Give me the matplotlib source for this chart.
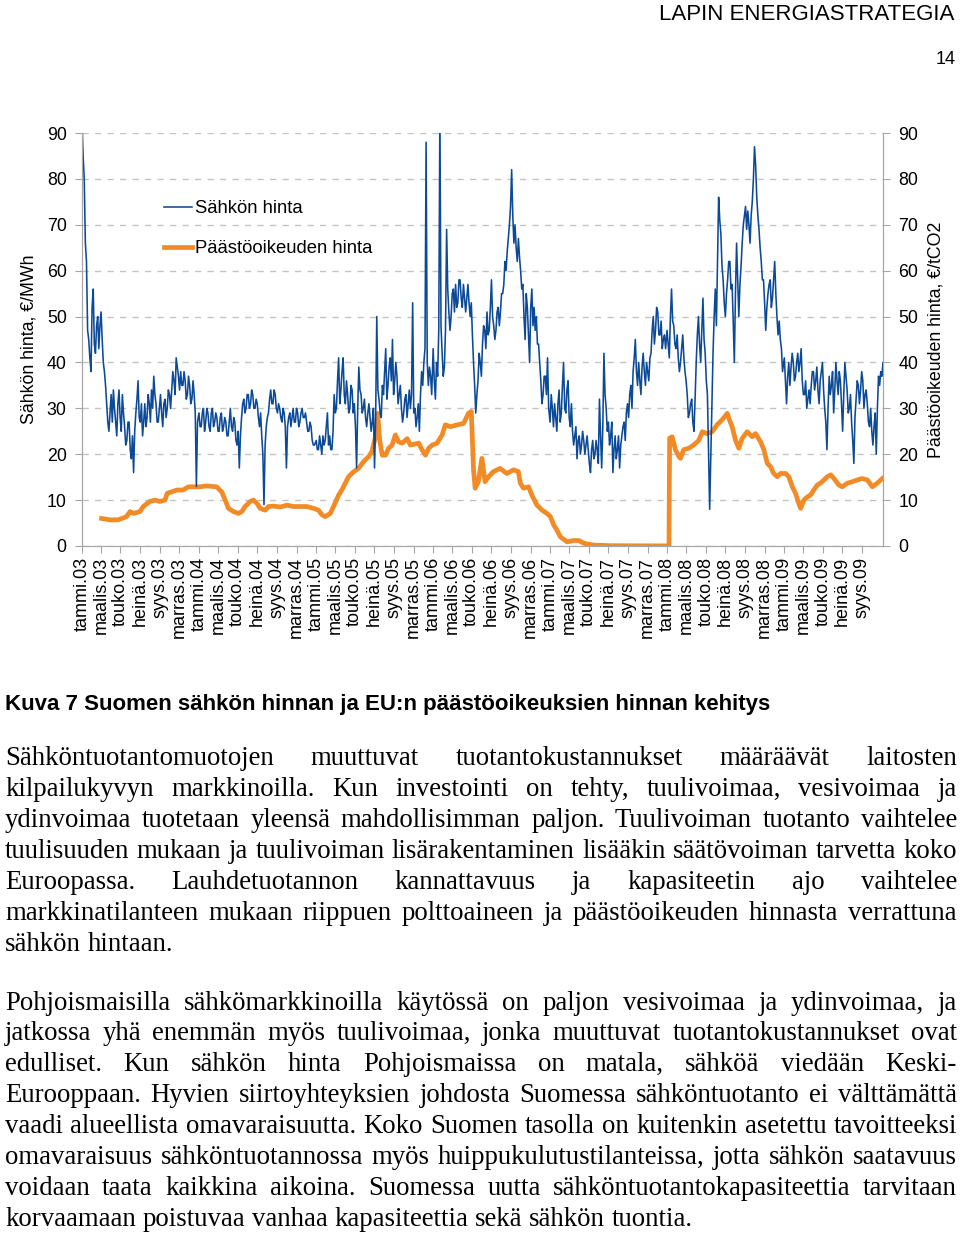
import matplotlib
matplotlib.use("Agg")
import matplotlib.pyplot as plt
import numpy as np
import pandas as pd

plt.rcParams["font.family"] = ["Liberation Sans", "DejaVu Sans"]

# electricity price, EUR/MWh: one value at the start of each week
# and one in the middle of the week (the other side of the daily band)
blue_2003 = [92, 80, 62, 45, 38, 56, 42, 50, 48, 45, 38, 31, 25, 33, 34, 27, 31, 28, 33, 26,
             23, 27, 19, 16, 29, 36, 27, 24, 31, 28, 31, 34, 37, 31, 27, 33, 26, 32, 30, 33,
             34, 36, 41, 37, 38, 35, 36, 33, 35, 32, 33, 13]
blue_2003_mid = [85, 66, 47, 41, 52, 44, 48, 43, 51, 40, 35, 27, 29, 27, 30, 24, 34, 25, 29, 22,
                 27, 21, 24, 25, 32, 28, 31, 27, 26, 33, 27, 30, 33, 27, 30, 29, 31, 28, 34, 30,
                 38, 33, 39, 34, 35, 38, 32, 37, 31, 36, 29, 27]
blue_2004 = [29, 26, 30, 27, 29, 25, 30, 27, 28, 25, 29, 26, 27, 24, 30, 25, 27, 22, 17, 28,
             32, 30, 33, 31, 33, 30, 31, 26, 24, 9, 26, 29, 34, 31, 33, 29, 30, 27, 29, 17,
             28, 26, 30, 27, 29, 27, 30, 28, 27, 25, 26, 22]
blue_2004_mid = [26, 29, 25, 30, 26, 29, 26, 29, 25, 28, 25, 28, 24, 27, 26, 28, 23, 25, 24, 31,
                 29, 33, 30, 34, 30, 32, 28, 29, 20, 22, 28, 32, 31, 34, 30, 31, 28, 30, 26, 26,
                 29, 28, 27, 30, 26, 29, 28, 29, 25, 27, 23, 22]
blue_2005 = [23, 21, 22, 24, 23, 29, 24, 21, 33, 30, 41, 34, 41, 31, 33, 30, 34, 31, 17, 39,
             33, 30, 28, 29, 28, 27, 17, 50, 32, 28, 33, 43, 35, 41, 45, 36, 37, 33, 30, 29,
             33, 31, 30, 53, 30, 28, 25, 38, 40, 88, 35, 37]
blue_2005_mid = [21, 24, 20, 22, 26, 22, 21, 25, 29, 36, 31, 38, 33, 36, 29, 35, 29, 26, 30, 34,
                 29, 32, 26, 31, 25, 30, 28, 34, 29, 35, 38, 32, 39, 36, 33, 40, 31, 35, 27, 32,
                 28, 34, 33, 29, 26, 31, 33, 35, 43, 40, 39, 33]
blue_2006 = [43, 32, 37, 95, 42, 39, 69, 51, 50, 56, 57, 53, 58, 52, 54, 54, 53, 53, 40, 29,
             36, 40, 44, 47, 51, 47, 58, 48, 47, 52, 51, 55, 62, 64, 70, 82, 66, 65, 67, 60,
             57, 45, 52, 40, 56, 52, 50, 44, 36, 33, 37, 41]
blue_2006_mid = [36, 40, 47, 48, 37, 47, 56, 47, 55, 51, 52, 58, 54, 57, 51, 57, 50, 46, 35, 33,
                 42, 37, 48, 43, 46, 52, 50, 45, 51, 48, 55, 57, 60, 67, 74, 72, 70, 62, 63, 56,
                 50, 55, 46, 52, 48, 47, 44, 40, 31, 37, 33, 30]
blue_2007 = [27, 30, 31, 25, 34, 29, 40, 29, 36, 26, 25, 24, 19, 24, 22, 23, 22, 21, 16, 23,
             20, 21, 32, 17, 42, 30, 27, 24, 16, 24, 21, 17, 24, 27, 29, 28, 35, 38, 45, 35,
             36, 39, 38, 40, 36, 42, 50, 47, 51, 46, 43, 46]
blue_2007_mid = [33, 26, 28, 31, 27, 35, 30, 34, 28, 31, 22, 26, 23, 20, 25, 20, 24, 18, 21, 19,
                 23, 18, 24, 26, 33, 25, 22, 27, 21, 19, 24, 22, 26, 23, 31, 33, 30, 41, 38, 40,
                 33, 42, 35, 38, 41, 47, 44, 52, 46, 49, 45, 43]
blue_2008 = [47, 41, 56, 48, 43, 41, 40, 46, 38, 33, 29, 32, 25, 40, 50, 40, 54, 42, 33, 8,
             30, 50, 48, 76, 68, 58, 50, 58, 62, 57, 40, 66, 50, 61, 70, 74, 73, 66, 75, 87,
             76, 69, 62, 58, 47, 55, 58, 54, 62, 50, 49, 43]
blue_2008_mid = [44, 50, 49, 44, 46, 38, 43, 41, 36, 28, 31, 27, 32, 46, 44, 47, 45, 36, 20, 19,
                 42, 56, 62, 71, 61, 53, 55, 62, 56, 49, 55, 58, 57, 66, 72, 69, 70, 72, 80, 83,
                 72, 65, 58, 53, 52, 57, 52, 58, 55, 46, 45, 38]
blue_2009 = [41, 31, 40, 39, 40, 37, 42, 40, 36, 33, 30, 34, 35, 38, 36, 34, 36, 40, 30, 21,
             37, 35, 29, 40, 33, 36, 25, 40, 34, 30, 27, 18, 32, 35, 34, 36, 33, 31, 26, 25,
             26, 20, 37, 38, 40]
blue_2009_mid = [36, 37, 35, 42, 36, 40, 38, 43, 33, 36, 32, 31, 38, 34, 39, 31, 38, 34, 27, 30,
                 33, 38, 34, 36, 38, 31, 33, 37, 29, 33, 23, 28, 36, 31, 38, 30, 34, 27, 30, 22,
                 29, 30, 35, 37]

# emission allowance price, EUR/tCO2
orange_dates = [
    "2003-03-03", "2003-03-29", "2003-04-24", "2003-05-20", "2003-05-31", "2003-06-10",
    "2003-07-01", "2003-07-11", "2003-08-01", "2003-08-17", "2003-09-01", "2003-09-17",
    "2003-09-24", "2003-10-08", "2003-10-24", "2003-11-13", "2003-11-29", "2004-01-04",
    "2004-01-25", "2004-02-25", "2004-03-12", "2004-03-23", "2004-04-02", "2004-04-18",
    "2004-05-03", "2004-05-14", "2004-05-24", "2004-06-09", "2004-06-19", "2004-06-30",
    "2004-07-10", "2004-07-26", "2004-08-05", "2004-08-21", "2004-09-11", "2004-10-02",
    "2004-10-22", "2004-11-12", "2004-12-03", "2004-12-24", "2005-01-08", "2005-01-19",
    "2005-01-29", "2005-02-14", "2005-02-24", "2005-03-12", "2005-03-22", "2005-04-02",
    "2005-04-12", "2005-04-28", "2005-05-13", "2005-05-29", "2005-06-14", "2005-06-24",
    "2005-07-05", "2005-07-12", "2005-07-18", "2005-07-26", "2005-08-05", "2005-08-15",
    "2005-08-26", "2005-09-05", "2005-09-15", "2005-09-26", "2005-10-12", "2005-10-22",
    "2005-11-17", "2005-11-27", "2005-12-08", "2005-12-18", "2005-12-29", "2006-01-13",
    "2006-01-29", "2006-02-08", "2006-02-24", "2006-03-17", "2006-04-06", "2006-04-21",
    "2006-04-30", "2006-05-07", "2006-05-12", "2006-05-22", "2006-06-02", "2006-06-12",
    "2006-06-23", "2006-07-08", "2006-07-29", "2006-08-19", "2006-09-09", "2006-09-24",
    "2006-09-30", "2006-10-10", "2006-10-26", "2006-11-05", "2006-11-21", "2006-12-07",
    "2006-12-22", "2007-01-02", "2007-01-12", "2007-01-22", "2007-02-02", "2007-02-23",
    "2007-03-15", "2007-03-31", "2007-04-16", "2007-05-17", "2007-07-08", "2007-10-01",
    "2008-01-07", "2008-01-09", "2008-01-17", "2008-01-27", "2008-02-07", "2008-02-12",
    "2008-02-22", "2008-03-09", "2008-03-24", "2008-04-09", "2008-04-20", "2008-05-05",
    "2008-05-21", "2008-06-05", "2008-06-21", "2008-07-07", "2008-07-12", "2008-07-22",
    "2008-08-02", "2008-08-12", "2008-08-22", "2008-09-07", "2008-09-23", "2008-10-03",
    "2008-10-19", "2008-10-29", "2008-11-09", "2008-11-19", "2008-11-29", "2008-12-10",
    "2008-12-20", "2009-01-05", "2009-01-15", "2009-01-26", "2009-02-05", "2009-02-15",
    "2009-02-21", "2009-03-03", "2009-03-14", "2009-03-24", "2009-04-03", "2009-04-14",
    "2009-04-24", "2009-05-05", "2009-05-15", "2009-05-26", "2009-06-05", "2009-06-20",
    "2009-07-01", "2009-07-17", "2009-08-01", "2009-08-17", "2009-09-01", "2009-09-17",
    "2009-10-03", "2009-10-18", "2009-11-03"]
orange_vals = [
    6.0, 5.7, 5.7, 6.4, 7.5, 7.1, 7.5, 8.6, 9.7, 10.0, 9.7, 10.0,
    11.5, 11.8, 12.2, 12.2, 12.9, 12.9, 13.1, 12.9, 11.8, 10.0, 8.2, 7.5,
    7.1, 7.5, 8.6, 9.7, 10.0, 9.3, 8.2, 7.8, 8.6, 8.7, 8.5, 8.9,
    8.6, 8.6, 8.6, 8.2, 7.8, 6.8, 6.4, 7.1, 8.6, 11.1, 12.2, 13.7,
    15.1, 16.2, 16.9, 18.4, 19.5, 20.6, 23.8, 28.9, 23.1, 19.8, 19.8, 21.3,
    22.0, 24.2, 22.7, 22.4, 23.4, 22.0, 22.4, 21.0, 19.8, 21.3, 22.0, 22.4,
    24.2, 26.4, 26.0, 26.4, 26.7, 28.9, 29.3, 16.6, 12.6, 14.0, 19.1, 14.0,
    15.1, 16.2, 16.9, 15.8, 16.6, 16.2, 13.7, 12.6, 12.9, 11.1, 8.9, 7.8,
    7.1, 6.4, 4.6, 3.5, 2.0, 0.9, 1.2, 1.2, 0.6, 0.2, 0.07, 0.05,
    0.02, 23.5, 23.8, 21.0, 19.5, 19.1, 21.0, 21.3, 22.0, 23.0, 24.9, 24.5,
    24.9, 26.4, 27.5, 28.9, 27.8, 26.0, 23.0, 21.3, 23.4, 24.9, 23.8, 24.5,
    22.7, 21.0, 18.0, 17.3, 15.8, 15.1, 15.8, 15.8, 15.1, 12.9, 11.5, 9.3,
    8.2, 10.0, 10.7, 11.1, 12.2, 13.3, 13.7, 14.4, 15.1, 15.5, 14.7, 13.3,
    12.9, 13.7, 14.0, 14.4, 14.7, 14.4, 12.9, 13.7, 14.7]

tick_months = ["tammi", "maalis", "touko", "heinä", "syys", "marras"]
y_ticks = [0, 10, 20, 30, 40, 50, 60, 70, 80, 90]

caption = "Kuva 7 Suomen sähkön hinnan ja EU:n päästöoikeuksien hinnan kehitys"
p1_lines = [
    "Sähköntuotantomuotojen muuttuvat tuotantokustannukset määräävät laitosten",
    "kilpailukyvyn markkinoilla. Kun investointi on tehty, tuulivoimaa, vesivoimaa ja",
    "ydinvoimaa tuotetaan yleensä mahdollisimman paljon. Tuulivoiman tuotanto vaihtelee",
    "tuulisuuden mukaan ja tuulivoiman lisärakentaminen lisääkin säätövoiman tarvetta koko",
    "Euroopassa. Lauhdetuotannon kannattavuus ja kapasiteetin ajo vaihtelee",
    "markkinatilanteen mukaan riippuen polttoaineen ja päästöoikeuden hinnasta verrattuna",
    "sähkön hintaan.",
]
p2_lines = [
    "Pohjoismaisilla sähkömarkkinoilla käytössä on paljon vesivoimaa ja ydinvoimaa, ja",
    "jatkossa yhä enemmän myös tuulivoimaa, jonka muuttuvat tuotantokustannukset ovat",
    "edulliset. Kun sähkön hinta Pohjoismaissa on matala, sähköä viedään Keski-",
    "Eurooppaan. Hyvien siirtoyhteyksien johdosta Suomessa sähköntuotanto ei välttämättä",
    "vaadi alueellista omavaraisuutta. Koko Suomen tasolla on kuitenkin asetettu tavoitteeksi",
    "omavaraisuus sähköntuotannossa myös huippukulutustilanteissa, jotta sähkön saatavuus",
    "voidaan taata kaikkina aikoina. Suomessa uutta sähköntuotantokapasiteettia tarvitaan",
    "korvaamaan poistuvaa vanhaa kapasiteettia sekä sähkön tuontia.",
]

W, H = 960, 1236
BLUE = "#0c4a98"
ORANGE = "#f28a26"
GRAY = "#a6a6a6"

blue_dates, blue_vals = [], []
for year, main, mid in [(2003, blue_2003, blue_2003_mid), (2004, blue_2004, blue_2004_mid),
                        (2005, blue_2005, blue_2005_mid), (2006, blue_2006, blue_2006_mid),
                        (2007, blue_2007, blue_2007_mid), (2008, blue_2008, blue_2008_mid),
                        (2009, blue_2009, blue_2009_mid)]:
    start = np.datetime64(f"{year}-01-01T00")
    d_main = start + np.arange(len(main)) * np.timedelta64(168, "h")
    d_mid = d_main[:len(mid)] + np.timedelta64(84, "h")
    blue_dates += list(d_main) + list(d_mid)
    blue_vals += list(main) + list(mid)
blue_dates = np.array(blue_dates)
order = np.argsort(blue_dates)
blue_dates = blue_dates[order]
blue_vals = np.array(blue_vals)[order]
orange_d = np.array(orange_dates, dtype="datetime64[D]")

fig = plt.figure(figsize=(W / 100, H / 100), dpi=100)
ax = fig.add_axes([82 / W, 1 - 546 / H, (883 - 82) / W, (546 - 133) / H])
ax2 = ax.twinx()
ax.set_zorder(2)
ax2.set_zorder(1)
ax.patch.set_visible(False)

p2, = ax2.plot(orange_d, orange_vals, color=ORANGE, lw=3.4, solid_joinstyle="round",
               label="Päästöoikeuden hinta")
p1, = ax.plot(blue_dates, blue_vals, color=BLUE, lw=1.15, label="Sähkön hinta")

for a in (ax, ax2):
    a.set_ylim(0, 90)
    a.set_yticks(y_ticks)
    a.spines["top"].set_visible(False)
    for s in ("left", "right", "bottom"):
        a.spines[s].set_color(GRAY)
ax2.yaxis.grid(True, color="#c4c4c4", lw=1, linestyle=(0, (4.5, 4.5)))
ax2.set_axisbelow(True)

xticks = pd.date_range("2003-01-01", "2009-09-01", freq="2MS")
ax.set_xticks(np.array(xticks, dtype="datetime64[D]"))
ax.set_xticklabels([f"{tick_months[(d.month - 1) // 2]}.{d.year % 100:02d}" for d in xticks],
                   rotation=90)
ax.set_xlim(np.datetime64("2003-01-01"), np.datetime64("2009-11-05"))
ax.tick_params(axis="x", direction="out", length=5, color=GRAY, pad=3, labelsize=13)
ax.tick_params(axis="y", direction="out", length=5, color=GRAY, pad=6, labelsize=12.8)
ax2.tick_params(axis="y", direction="out", length=5, color=GRAY, pad=6, labelsize=12.8)

ax.set_ylabel("Sähkön hinta, €/MWh", fontsize=12.8, labelpad=7)
ax2.set_ylabel("Päästöoikeuden hinta, €/tCO2", fontsize=12.8, labelpad=7)

ax.legend(handles=[p1, p2], loc="upper left", bbox_to_anchor=(0.082, 0.878), frameon=False,
          fontsize=13.3, handlelength=1.5, handletextpad=0.15, labelspacing=1.25)

# page header and caption
fig.text(954 / W, 1 - 20 / H, "LAPIN ENERGIASTRATEGIA", ha="right", va="baseline", fontsize=16)
fig.text(956 / W, 1 - 64 / H, "14", ha="right", va="baseline", fontsize=13)
fig.text(5 / W, 1 - 710 / H, caption, ha="left", va="baseline", fontsize=16, weight="bold")

# justified body text
renderer = fig.canvas.get_renderer()
serif = ["Liberation Serif", "DejaVu Serif"]
body_size = 19.3
left, right = 5, 957


def justified(lines, first_baseline, step):
    for i, line in enumerate(lines):
        y = 1 - (first_baseline + i * step) / H
        words = line.split()
        texts = [fig.text(0, y, w, family=serif, fontsize=body_size, va="baseline") for w in words]
        widths = [t.get_window_extent(renderer).width for t in texts]
        if i == len(lines) - 1:
            gap = body_size * 100 / 72 * 0.25
        else:
            gap = (right - left - sum(widths)) / (len(words) - 1)
        x = left
        for t, w in zip(texts, widths):
            t.set_x(x / W)
            x += w + gap


justified(p1_lines, 765, 31)
justified(p2_lines, 1009.5, 30.9)

fig.savefig("out.png", dpi=100)
